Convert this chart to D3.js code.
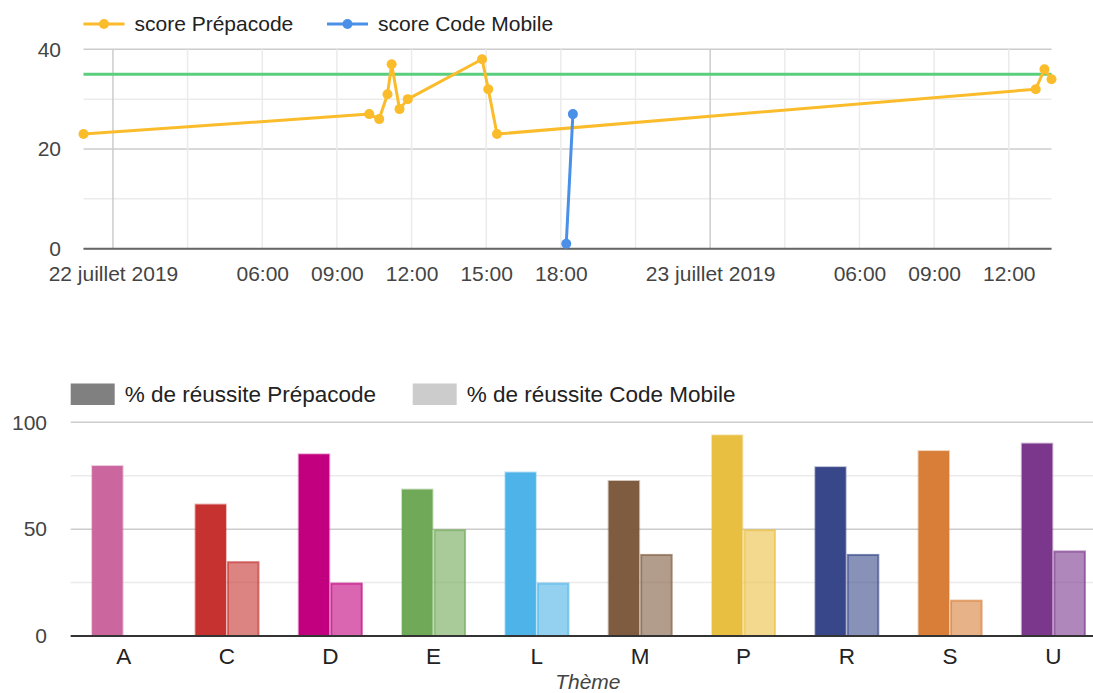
<!DOCTYPE html>
<html><head><meta charset="utf-8">
<script src="https://cdn.jsdelivr.net/npm/d3@7"></script>
<style>
body{margin:0;background:#fff;}
svg{display:block;font-family:Arial,"Liberation Sans",sans-serif;}
</style></head>
<body><svg id="c" width="1093" height="693"></svg>
<script>
// ---- data: line chart ----
const prepaTimes = ["2019-07-21T22:49","2019-07-22T10:18","2019-07-22T10:42","2019-07-22T11:02","2019-07-22T11:12","2019-07-22T11:31","2019-07-22T11:51","2019-07-22T14:50","2019-07-22T15:05","2019-07-22T15:26","2019-07-23T13:05","2019-07-23T13:26","2019-07-23T13:43"];
const prepaScores = [23,27,26,31,37,28,30,38,32,23,32,36,34];
const mobileTimes = ["2019-07-22T18:13","2019-07-22T18:29"];
const mobileScores = [1,27];
const threshold = 35;
const lineSeries = ["score Prépacode","score Code Mobile"];
const timeTicks = ["2019-07-22T00:00","2019-07-22T03:00","2019-07-22T06:00","2019-07-22T09:00","2019-07-22T12:00","2019-07-22T15:00","2019-07-22T18:00","2019-07-22T21:00","2019-07-23T00:00","2019-07-23T03:00","2019-07-23T06:00","2019-07-23T09:00","2019-07-23T12:00"];
const timeTickLabels = ["22 juillet 2019","","06:00","09:00","12:00","15:00","18:00","","23 juillet 2019","","06:00","09:00","12:00"];
const scoreTicks = [0,10,20,30,40];
const scoreTickLabels = ["0","","20","","40"];

// ---- data: bar chart ----
const themes = ["A","C","D","E","L","M","P","R","S","U"];
const barSeries = ["% de réussite Prépacode","% de réussite Code Mobile"];
const prepaPct = [80,62,85.5,69,77,73,94.4,79.5,87,90.5];
const mobilePct = [null,35,25,50,25,38.4,50,38.4,17,40];
const themeColors = ["#cc669e","#c5322f","#c2007f","#70a957","#4db3e8","#7f5b3f","#e9bf41","#384789","#d87e38","#7b378c"];
const pctTicks = [0,25,50,75,100];
const pctTickLabels = ["0","","50","","100"];
const axisTitle = "Thème";

const svg = d3.select("#c");
const parse = d3.timeParse("%Y-%m-%dT%H:%M");
const FS = 21, FS2 = 22.5;
const orange = "#fbbc2c", blue = "#4a90e8", green = "#5ace7d";

// ================= LINE CHART =================
const prepa = prepaTimes.map((t,i)=>({t:parse(t),v:prepaScores[i]}));
const mobile = mobileTimes.map((t,i)=>({t:parse(t),v:mobileScores[i]}));
const all = prepa.concat(mobile);
const x = d3.scaleTime().domain(d3.extent(all,d=>d.t)).range([83.5,1051.5]);
const y = d3.scaleLinear().domain([0,40]).range([248.7,49.3]);
const tt = timeTicks.map(parse);

const g1 = svg.append("g");
g1.append("g").selectAll("line").data(scoreTicks).join("line")
  .attr("x1",x.range()[0]).attr("x2",x.range()[1])
  .attr("y1",d=>y(d)).attr("y2",d=>y(d))
  .attr("stroke",(d,i)=>scoreTickLabels[i]?"#cccccc":"#ebebeb").attr("stroke-width",1.5);
g1.append("g").selectAll("line").data(tt).join("line")
  .attr("x1",d=>x(d)).attr("x2",d=>x(d))
  .attr("y1",y(40)).attr("y2",y(0))
  .attr("stroke",d=>(d.getHours()===0)?"#cccccc":"#ebebeb").attr("stroke-width",1.5);
g1.append("line").attr("x1",x.range()[0]).attr("x2",x.range()[1])
  .attr("y1",y(0)).attr("y2",y(0)).attr("stroke","#666").attr("stroke-width",2);
const xAxis = d3.axisBottom(x).tickValues(tt).tickSize(0).tickPadding(0)
  .tickFormat((d,i)=>timeTickLabels[i]);
const xa = g1.append("g").attr("transform",`translate(0,${y(0)+12})`).call(xAxis);
xa.select(".domain").remove();
xa.selectAll("text").attr("font-size",FS).attr("fill","#444").attr("font-family","Arial,'Liberation Sans',sans-serif").attr("dy","0.95em");
const yAxis = d3.axisLeft(y).tickValues(scoreTicks).tickSize(0).tickPadding(0)
  .tickFormat((d,i)=>scoreTickLabels[i]);
const ya = g1.append("g").attr("transform",`translate(61,0)`).call(yAxis);
ya.select(".domain").remove();
ya.selectAll("text").attr("font-size",FS).attr("fill","#444").attr("font-family","Arial,'Liberation Sans',sans-serif");
g1.append("line").attr("x1",x.range()[0]).attr("x2",x.range()[1])
  .attr("y1",y(threshold)).attr("y2",y(threshold)).attr("stroke",green).attr("stroke-width",3);
const line = d3.line().x(d=>x(d.t)).y(d=>y(d.v));
[[prepa,orange],[mobile,blue]].forEach(([data,col])=>{
  g1.append("path").datum(data).attr("d",line).attr("fill","none").attr("stroke",col).attr("stroke-width",3).attr("stroke-linejoin","round");
  g1.append("g").selectAll("circle").data(data).join("circle")
    .attr("cx",d=>x(d.t)).attr("cy",d=>y(d.v)).attr("r",5).attr("fill",col);
});
const leg1 = [{x:83.5,c:orange},{x:327,c:blue}];
leg1.forEach((l,i)=>{
  const lg = g1.append("g");
  lg.append("line").attr("x1",l.x).attr("x2",l.x+41).attr("y1",24).attr("y2",24).attr("stroke",l.c).attr("stroke-width",3);
  lg.append("circle").attr("cx",l.x+20.5).attr("cy",24).attr("r",5).attr("fill",l.c);
  lg.append("text").attr("x",l.x+51).attr("y",24).attr("dy","0.35em").attr("font-size",FS).attr("fill","#222").text(lineSeries[i]);
});

// ================= BAR CHART =================
const g2 = svg.append("g");
const bx = d3.scaleBand().domain(themes).range([72,1105]).paddingInner(0.37).paddingOuter(0.185);
const sub = d3.scaleBand().domain([0,1]).range([0,bx.bandwidth()]);
const by = d3.scaleLinear().domain([0,100]).range([636,422.3]);
const left = 70.7, right = 1093;
g2.append("g").selectAll("line").data(pctTicks).join("line")
  .attr("x1",left).attr("x2",right).attr("y1",d=>by(d)).attr("y2",d=>by(d))
  .attr("stroke",(d,i)=>pctTickLabels[i]?"#cccccc":"#ebebeb").attr("stroke-width",1.5);
const byAxis = d3.axisLeft(by).tickValues(pctTicks).tickSize(0).tickPadding(0)
  .tickFormat((d,i)=>pctTickLabels[i]);
const bya = g2.append("g").attr("transform","translate(47,0)").call(byAxis);
bya.select(".domain").remove();
bya.selectAll("text").attr("font-size",FS).attr("fill","#444").attr("font-family","Arial,'Liberation Sans',sans-serif");

const bars = [];
themes.forEach((t,i)=>{
  bars.push({t,s:0,v:prepaPct[i],c:themeColors[i]});
  if(mobilePct[i]!=null) bars.push({t,s:1,v:mobilePct[i],c:themeColors[i]});
});
g2.append("g").selectAll("rect").data(bars).join("rect")
  .attr("x",d=>bx(d.t)+sub(d.s)+1).attr("width",sub.bandwidth()-2)
  .attr("y",d=>by(d.v)+1).attr("height",d=>by(0)-by(d.v)-1)
  .attr("fill",d=>d.c).attr("fill-opacity",d=>d.s?0.6:1)
  .attr("stroke",d=>d.c).attr("stroke-opacity",d=>d.s?0.65:0.35).attr("stroke-width",2);

g2.append("line").attr("x1",left).attr("x2",right).attr("y1",by(0)).attr("y2",by(0))
  .attr("stroke","#333").attr("stroke-width",2);

const bxAxis = d3.axisBottom(bx).tickSize(0).tickPadding(0);
const bxa = g2.append("g").attr("transform",`translate(0,${by(0)+10})`).call(bxAxis);
bxa.select(".domain").remove();
bxa.selectAll("text").attr("font-size",FS2).attr("fill","#222").attr("font-family","Arial,'Liberation Sans',sans-serif").attr("dy","0.8em");

g2.append("text").attr("x",(left+1105)/2).attr("y",689).attr("text-anchor","middle")
  .attr("font-size",FS).attr("font-style","italic").attr("fill","#444").text(axisTitle);

const leg2 = [{x:70.7,c:"#808080"},{x:412.7,c:"#cccccc"}];
leg2.forEach((l,i)=>{
  g2.append("rect").attr("x",l.x).attr("y",383.5).attr("width",44).attr("height",21.5).attr("fill",l.c);
  g2.append("text").attr("x",l.x+54).attr("y",394).attr("dy","0.35em").attr("font-size",FS2).attr("fill","#222").text(barSeries[i]);
});
</script></body></html>
